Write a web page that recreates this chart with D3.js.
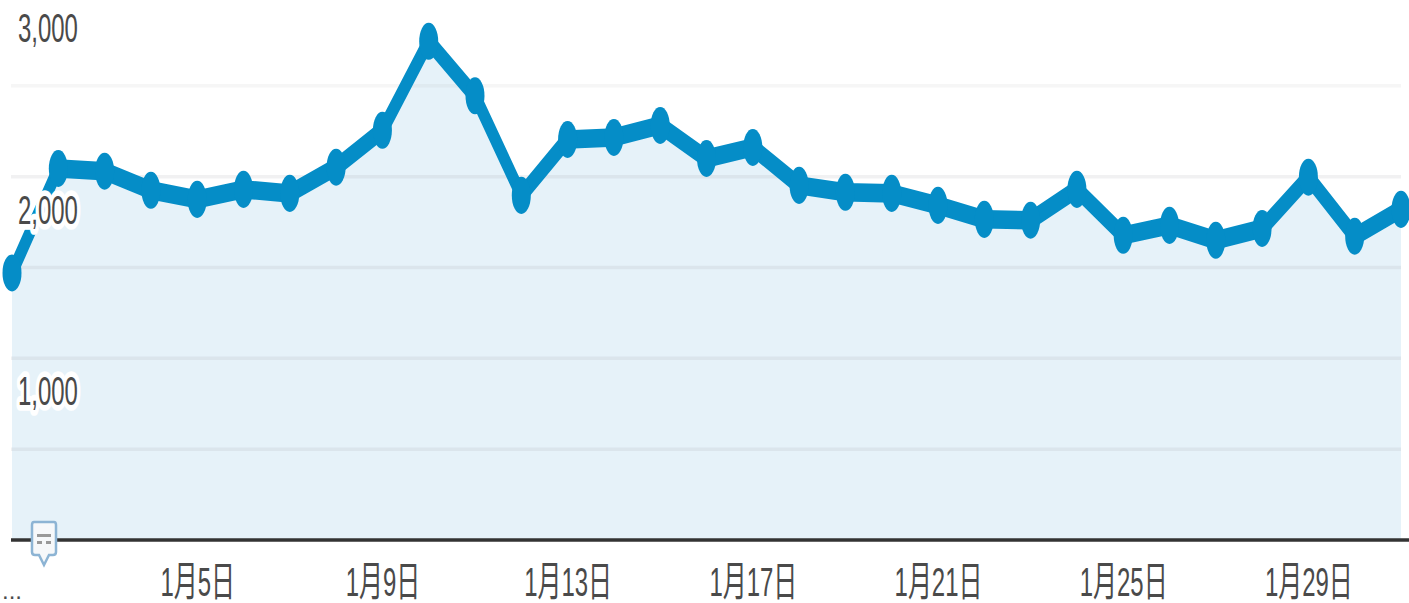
<!DOCTYPE html>
<html>
<head>
<meta charset="utf-8">
<script src="https://cdnjs.cloudflare.com/ajax/libs/d3/7.8.5/d3.min.js"></script>
<style>
  html, body { margin: 0; background: #fff; overflow: hidden; }
  text { font-family: "Liberation Sans", "Noto Sans CJK SC", sans-serif; font-size: 21px; fill: #4a4a4a; }
</style>
</head>
<body>
<div id="chart"></div>
<script>
// daily sessions for January
const days = d3.range(1, 32);
const visits = [1470, 2045, 2030, 1925, 1875, 1930, 1908, 2052, 2255, 2745, 2445, 1897, 2205, 2216, 2282, 2100,
  2161, 1952, 1914, 1908, 1842, 1765, 1760, 1930, 1677, 1732, 1650, 1715, 1997, 1672, 1820];
const xTickDays = [5, 9, 13, 17, 21, 25, 29];
const gridValues = [500, 1000, 1500, 2000, 2500];
const yLabels = [1000, 2000, 3000];

const width = 1409, height = 603;
// the source screenshot is stretched vertically, so everything is drawn in a squashed space
const stretch = 1.95;
const textWiden = 1.14;

const x = d3.scaleLinear().domain([1, 31]).range([12, 1401]);
const y = d3.scaleLinear().domain([0, 3000]).range([540 / stretch, -5 / stretch]);

const svg = d3.select("#chart").append("svg")
  .attr("width", width)
  .attr("height", height)
  .style("display", "block");

const g = svg.append("g").attr("transform", `scale(1,${stretch})`);

// area under the line
g.append("path")
  .datum(visits)
  .attr("fill", "#e6f2f9")
  .attr("d", d3.area().x((d, i) => x(days[i])).y0(y(0)).y1(d => y(d)));

// grid lines
g.selectAll(".grid")
  .data(gridValues)
  .join("line")
  .attr("class", "grid")
  .attr("x1", 11)
  .attr("x2", 1401)
  .attr("y1", d => y(d))
  .attr("y2", d => y(d))
  .attr("stroke", "#8a8f92")
  .attr("stroke-opacity", d => d == 2500 ? 0.08 : 0.12)
  .attr("stroke-width", 1.8);

// line and markers
g.append("path")
  .datum(visits)
  .attr("fill", "none")
  .attr("stroke", "#058dc7")
  .attr("stroke-width", 9.5)
  .attr("stroke-linejoin", "round")
  .attr("d", d3.line().x((d, i) => x(days[i])).y(d => y(d)));

g.selectAll(".dot")
  .data(visits)
  .join("circle")
  .attr("class", "dot")
  .attr("cx", (d, i) => x(days[i]))
  .attr("cy", d => y(d))
  .attr("r", 9.5)
  .attr("fill", "#058dc7");

// baseline
g.append("line")
  .attr("x1", 11)
  .attr("x2", width)
  .attr("y1", y(0))
  .attr("y2", y(0))
  .attr("stroke", "#333")
  .attr("stroke-width", 1.8);

// x axis
const xAxis = g.append("g")
  .attr("transform", `translate(0,${y(0)})`)
  .call(d3.axisBottom(x).tickValues(xTickDays).tickSize(0).tickPadding(14).tickFormat(d => `1月${d}日`));
xAxis.select(".domain").remove();
xAxis.selectAll("text")
  .style("font-size", "21px")
  .attr("fill", "#4a4a4a")
  .attr("font-family", null)
  .attr("transform", `scale(${textWiden},1)`);

g.append("text")
  .attr("transform", `translate(2,${599 / stretch}) scale(1.2,0.6)`)
  .style("font-size", "20px")
  .text("...");

// y labels with a white halo over the line
g.selectAll(".ylabel")
  .data(yLabels)
  .join("text")
  .attr("class", "ylabel")
  .attr("transform", d => `translate(18,${(y(d) * stretch + 47) / stretch}) scale(${textWiden},1)`)
  .attr("stroke", "#fff")
  .attr("stroke-width", 6)
  .attr("stroke-linejoin", "round")
  .attr("paint-order", "stroke")
  .text(d => d3.format(",")(d));

// annotation bubble on the baseline
const note = svg.append("g").attr("transform", "translate(44,541)");
note.append("path")
  .attr("d", "M-10,-19 H10 Q12,-19 12,-16 V11 Q12,14 9,14 H5 L0,24 L-5,14 H-9 Q-12,14 -12,11 V-16 Q-12,-19 -10,-19 Z")
  .attr("fill", "#f6f8fa")
  .attr("stroke", "#8db4d4")
  .attr("stroke-width", 2.5);
note.append("rect").attr("x", -7).attr("y", -7).attr("width", 14).attr("height", 3).attr("fill", "#999");
note.append("rect").attr("x", -7).attr("y", 0).attr("width", 5).attr("height", 3).attr("fill", "#999");
note.append("rect").attr("x", 2).attr("y", 0).attr("width", 5).attr("height", 3).attr("fill", "#999");
</script>
</body>
</html>
